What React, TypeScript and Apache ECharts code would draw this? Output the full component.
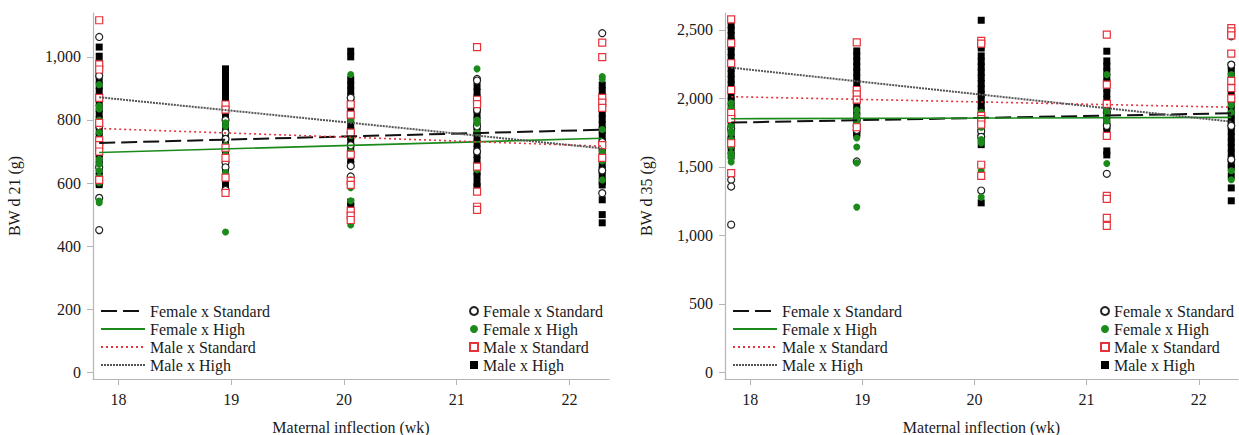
import React, { useEffect, useRef } from "react";
import * as echarts from "echarts";

// ---- data ----
const weekTicks = [18, 19, 20, 21, 22];
const weeks = [17.83, 18.95, 20.06, 21.18, 22.29];
const groups = ["Female x Standard", "Female x High", "Male x Standard", "Male x High"];
const bw21Ticks = [0, 200, 400, 600, 800, 1000];
const bw35Ticks = [0, 500, 1000, 1500, 2000, 2500];

// BW d 21 — one list per inflection week (column)
const bw21FemaleStd = [
  [1063, 940, 870, 780, 720, 650, 553, 451],
  [800, 760, 740, 665, 650, 578],
  [870, 760, 720, 654, 621],
  [930, 925, 832, 780, 700],
  [1075, 850, 730, 640, 568],
];
const bw21FemaleHigh = [
  [912, 845, 835, 800, 760, 700, 675, 660, 639, 620, 601, 543, 538],
  [791, 780, 720, 705, 690, 633, 620, 445],
  [944, 850, 801, 750, 700, 610, 585, 544, 490, 467],
  [962, 864, 800, 790, 760, 642, 520],
  [938, 930, 860, 770, 700, 680, 670, 610],
];
const bw21MaleStd = [
  [1116, 976, 960, 870, 791, 735, 720, 700, 610],
  [849, 833, 712, 680, 617, 569],
  [849, 817, 760, 690, 607, 594, 512, 497, 483],
  [1031, 864, 850, 652, 573, 525, 515],
  [1045, 999, 870, 855, 838, 720, 680],
];
const bw21MaleHigh = [
  [1031, 1002, 981, 963, 945, 927, 909, 891, 873, 855, 837, 819, 801, 783, 765, 747, 729, 711, 693, 675, 657, 639, 621, 603, 595],
  [962, 944, 926, 908, 890, 872, 854, 836, 818, 800, 782, 764, 746, 728, 710, 692, 674, 656, 638, 620, 602, 584],
  [1018, 1000, 928, 910, 892, 874, 856, 838, 820, 802, 784, 766, 748, 730, 712, 694, 676, 659, 540, 526],
  [906, 888, 870, 852, 834, 816, 798, 780, 762, 744, 726, 708, 690, 672, 654, 636, 621, 600, 589],
  [911, 893, 875, 857, 839, 821, 803, 785, 767, 749, 731, 713, 695, 677, 659, 641, 623, 605, 594, 547, 500, 474],
];

// BW d 35
const bw35FemaleStd = [
  [1880, 1780, 1700, 1406, 1357, 1079],
  [1843, 1800, 1770, 1540],
  [1760, 1720, 1328],
  [1900, 1800, 1450],
  [2454, 2247, 1800, 1554],
];
const bw35FemaleHigh = [
  [1967, 1930, 1900, 1850, 1800, 1760, 1747, 1700, 1650, 1600, 1574, 1537],
  [1916, 1880, 1830, 1712, 1646, 1530, 1207],
  [1900, 1790, 1700, 1676, 1472, 1280],
  [2174, 1908, 1880, 1835, 1525],
  [2174, 1950, 1900, 1472, 1407],
];
const bw35MaleStd = [
  [2578, 2403, 2257, 2062, 1894, 1850, 1673, 1455],
  [2410, 2062, 2030, 1991, 1790],
  [2420, 2400, 1873, 1850, 1810, 1516, 1435],
  [2466, 2101, 1960, 1727, 1289, 1267, 1129, 1070],
  [2514, 2490, 2460, 2327, 2128, 2075, 2000],
];
const bw35MaleHigh = [
  [2536, 2500, 2460, 2420, 2380, 2340, 2300, 2260, 2220, 2180, 2140, 2100, 2060, 2020, 1980, 1940, 1900, 1860, 1820, 1780, 1740, 1700, 1660, 1620, 1580],
  [2347, 2310, 2270, 2230, 2190, 2150, 2110, 2070, 2030, 1990, 1950, 1910, 1870, 1830, 1790, 1750, 1738],
  [2571, 2390, 2368, 2311, 2270, 2230, 2190, 2150, 2110, 2070, 2030, 1990, 1950, 1910, 1870, 1830, 1790, 1750, 1710, 1663, 1238],
  [2345, 2274, 2235, 2195, 2155, 2115, 2075, 2035, 1995, 1955, 1915, 1875, 1835, 1795, 1763, 1617, 1588],
  [2240, 2200, 2160, 2120, 2080, 2040, 2000, 1960, 1920, 1880, 1840, 1800, 1760, 1720, 1680, 1640, 1600, 1560, 1520, 1494, 1435, 1347, 1253],
];

// regression lines (start at first week, end at last week)
const fitWeeks = [17.83, 22.29];
const fit21FemaleStd = [727, 769];
const fit21FemaleHigh = [697, 742];
const fit21MaleStd = [773, 717];
const fit21MaleHigh = [872, 710];
const fit35FemaleStd = [1824, 1892];
const fit35FemaleHigh = [1852, 1862];
const fit35MaleStd = [2013, 1936];
const fit35MaleHigh = [2225, 1831];

// ---- styles ----
const FONT = "'Liberation Serif', 'Times New Roman', serif";
const GREEN = "#1b8a1b";
const RED = "#e8323c";
const AXIS = "#b5b5b5";
const TEXT = "#1a1a1a";

const lineStyles = [
  { color: "#111", width: 2, type: [16, 6] },
  { color: GREEN, width: 1.6, type: "solid" },
  { color: RED, width: 1.6, type: [2, 3] },
  { color: "#555", width: 2, type: [2, 1] },
];
const scatterStyles = [
  { symbol: "circle", size: 7, itemStyle: { color: "#fff", borderColor: "#222", borderWidth: 1.2, opacity: 1 } },
  { symbol: "circle", size: 7, itemStyle: { color: GREEN, borderColor: GREEN, borderWidth: 0, opacity: 1 } },
  { symbol: "rect", size: 7, itemStyle: { color: "#fff", borderColor: RED, borderWidth: 1.2, opacity: 1 } },
  { symbol: "rect", size: 7, itemStyle: { color: "#000", borderColor: "#000", borderWidth: 0, opacity: 1 } },
];

const toPoints = (cols: number[][]) =>
  cols.flatMap((vals, i) => vals.map((v) => [weeks[i], v]));

function buildPanel(idx: number, scat: number[][][][], fits: number[][]) {
  const series: any[] = [];
  const order = [3, 0, 1, 2];
  order.forEach((g) => {
    const s = scatterStyles[g];
    series.push({
      type: "scatter",
      name: "S|" + groups[g],
      xAxisIndex: idx,
      yAxisIndex: idx,
      symbol: s.symbol,
      symbolSize: s.size,
      itemStyle: s.itemStyle,
      emphasis: { disabled: true },
      data: toPoints(scat[g]),
      z: 2,
    });
  });
  fits.forEach((f, g) => {
    series.push({
      type: "line",
      name: "L|" + groups[g],
      xAxisIndex: idx,
      yAxisIndex: idx,
      symbol: "none",
      showSymbol: false,
      itemStyle: { color: lineStyles[g].color },
      lineStyle: lineStyles[g],
      emphasis: { disabled: true },
      data: fitWeeks.map((w, j) => [w, f[j]]),
      z: 5,
    });
  });
  return series;
}

const xAxisCommon = (gridIndex: number) => ({
  type: "value",
  gridIndex,
  min: 17.775,
  max: 22.35,
  name: "Maternal inflection (wk)",
  nameLocation: "middle",
  nameGap: 40,
  nameTextStyle: { fontFamily: FONT, fontSize: 16, color: TEXT },
  axisLine: { show: true, onZero: false, lineStyle: { color: AXIS, width: 1.2 } },
  axisTick: { show: true, length: 6, lineStyle: { color: AXIS }, customValues: weekTicks },
  axisLabel: { fontFamily: FONT, fontSize: 16, color: TEXT, margin: 12, customValues: weekTicks },
  splitLine: { show: false },
});

const yAxisCommon = (gridIndex: number, name: string, min: number, max: number, ticks: number[]) => ({
  type: "value",
  gridIndex,
  min,
  max,
  name,
  nameLocation: "middle",
  nameGap: 71,
  nameTextStyle: { fontFamily: FONT, fontSize: 16, color: TEXT },
  axisLine: { show: true, onZero: false, lineStyle: { color: AXIS, width: 1.2 } },
  axisTick: { show: true, length: 6, lineStyle: { color: AXIS }, customValues: ticks },
  axisLabel: {
    fontFamily: FONT,
    fontSize: 16,
    color: TEXT,
    margin: 12,
    customValues: ticks,
    formatter: (v: number) => v.toLocaleString("en-US"),
  },
  splitLine: { show: false },
});

const lineLegend = (left: number) => ({
  left,
  top: 303,
  padding: 0,
  orient: "vertical",
  itemWidth: 44,
  itemHeight: 12,
  itemGap: 2,
  itemStyle: { opacity: 0 },
  lineStyle: { opacity: 1 },
  data: groups.map((g) => "L|" + g),
  formatter: (n: string) => n.slice(2),
  textStyle: { fontFamily: FONT, fontSize: 16, color: TEXT },
  selectedMode: false,
});

const symLegend = (left: number) => ({
  left,
  top: 303,
  padding: 0,
  orient: "vertical",
  itemWidth: 8,
  itemHeight: 8,
  itemGap: 2,
  data: groups.map((g) => "S|" + g),
  formatter: (n: string) => n.slice(2),
  textStyle: { fontFamily: FONT, fontSize: 16, color: TEXT },
  selectedMode: false,
});

export default function App() {
  const ref = useRef<HTMLDivElement>(null);
  useEffect(() => {
    if (!ref.current) return;
    const chart = echarts.init(ref.current, undefined, { renderer: "svg" });
    const option: any = {
      animation: false,
      backgroundColor: "#fff",
      textStyle: { fontFamily: FONT },
      grid: [
        { left: 93, top: 13, width: 516, height: 366, outerBoundsMode: "none", containLabel: false },
        { left: 725, top: 13, width: 513, height: 366, outerBoundsMode: "none", containLabel: false },
      ],
      xAxis: [xAxisCommon(0), xAxisCommon(1)],
      yAxis: [
        yAxisCommon(0, "BW d 21 (g)", -21, 1139, bw21Ticks),
        yAxisCommon(1, "BW d 35 (g)", -48, 2624, bw35Ticks),
      ],
      legend: [lineLegend(100), symLegend(469), lineLegend(732), symLegend(1100)],
      series: [
        ...buildPanel(0, [bw21FemaleStd, bw21FemaleHigh, bw21MaleStd, bw21MaleHigh], [fit21FemaleStd, fit21FemaleHigh, fit21MaleStd, fit21MaleHigh]),
        ...buildPanel(1, [bw35FemaleStd, bw35FemaleHigh, bw35MaleStd, bw35MaleHigh], [fit35FemaleStd, fit35FemaleHigh, fit35MaleStd, fit35MaleHigh]),
      ],
    };
    chart.setOption(option);
    return () => chart.dispose();
  }, []);
  return (
    <div
      ref={ref}
      style={{ position: "absolute", left: 0, top: 0, width: 1239, height: 435, background: "#fff" }}
    />
  );
}
